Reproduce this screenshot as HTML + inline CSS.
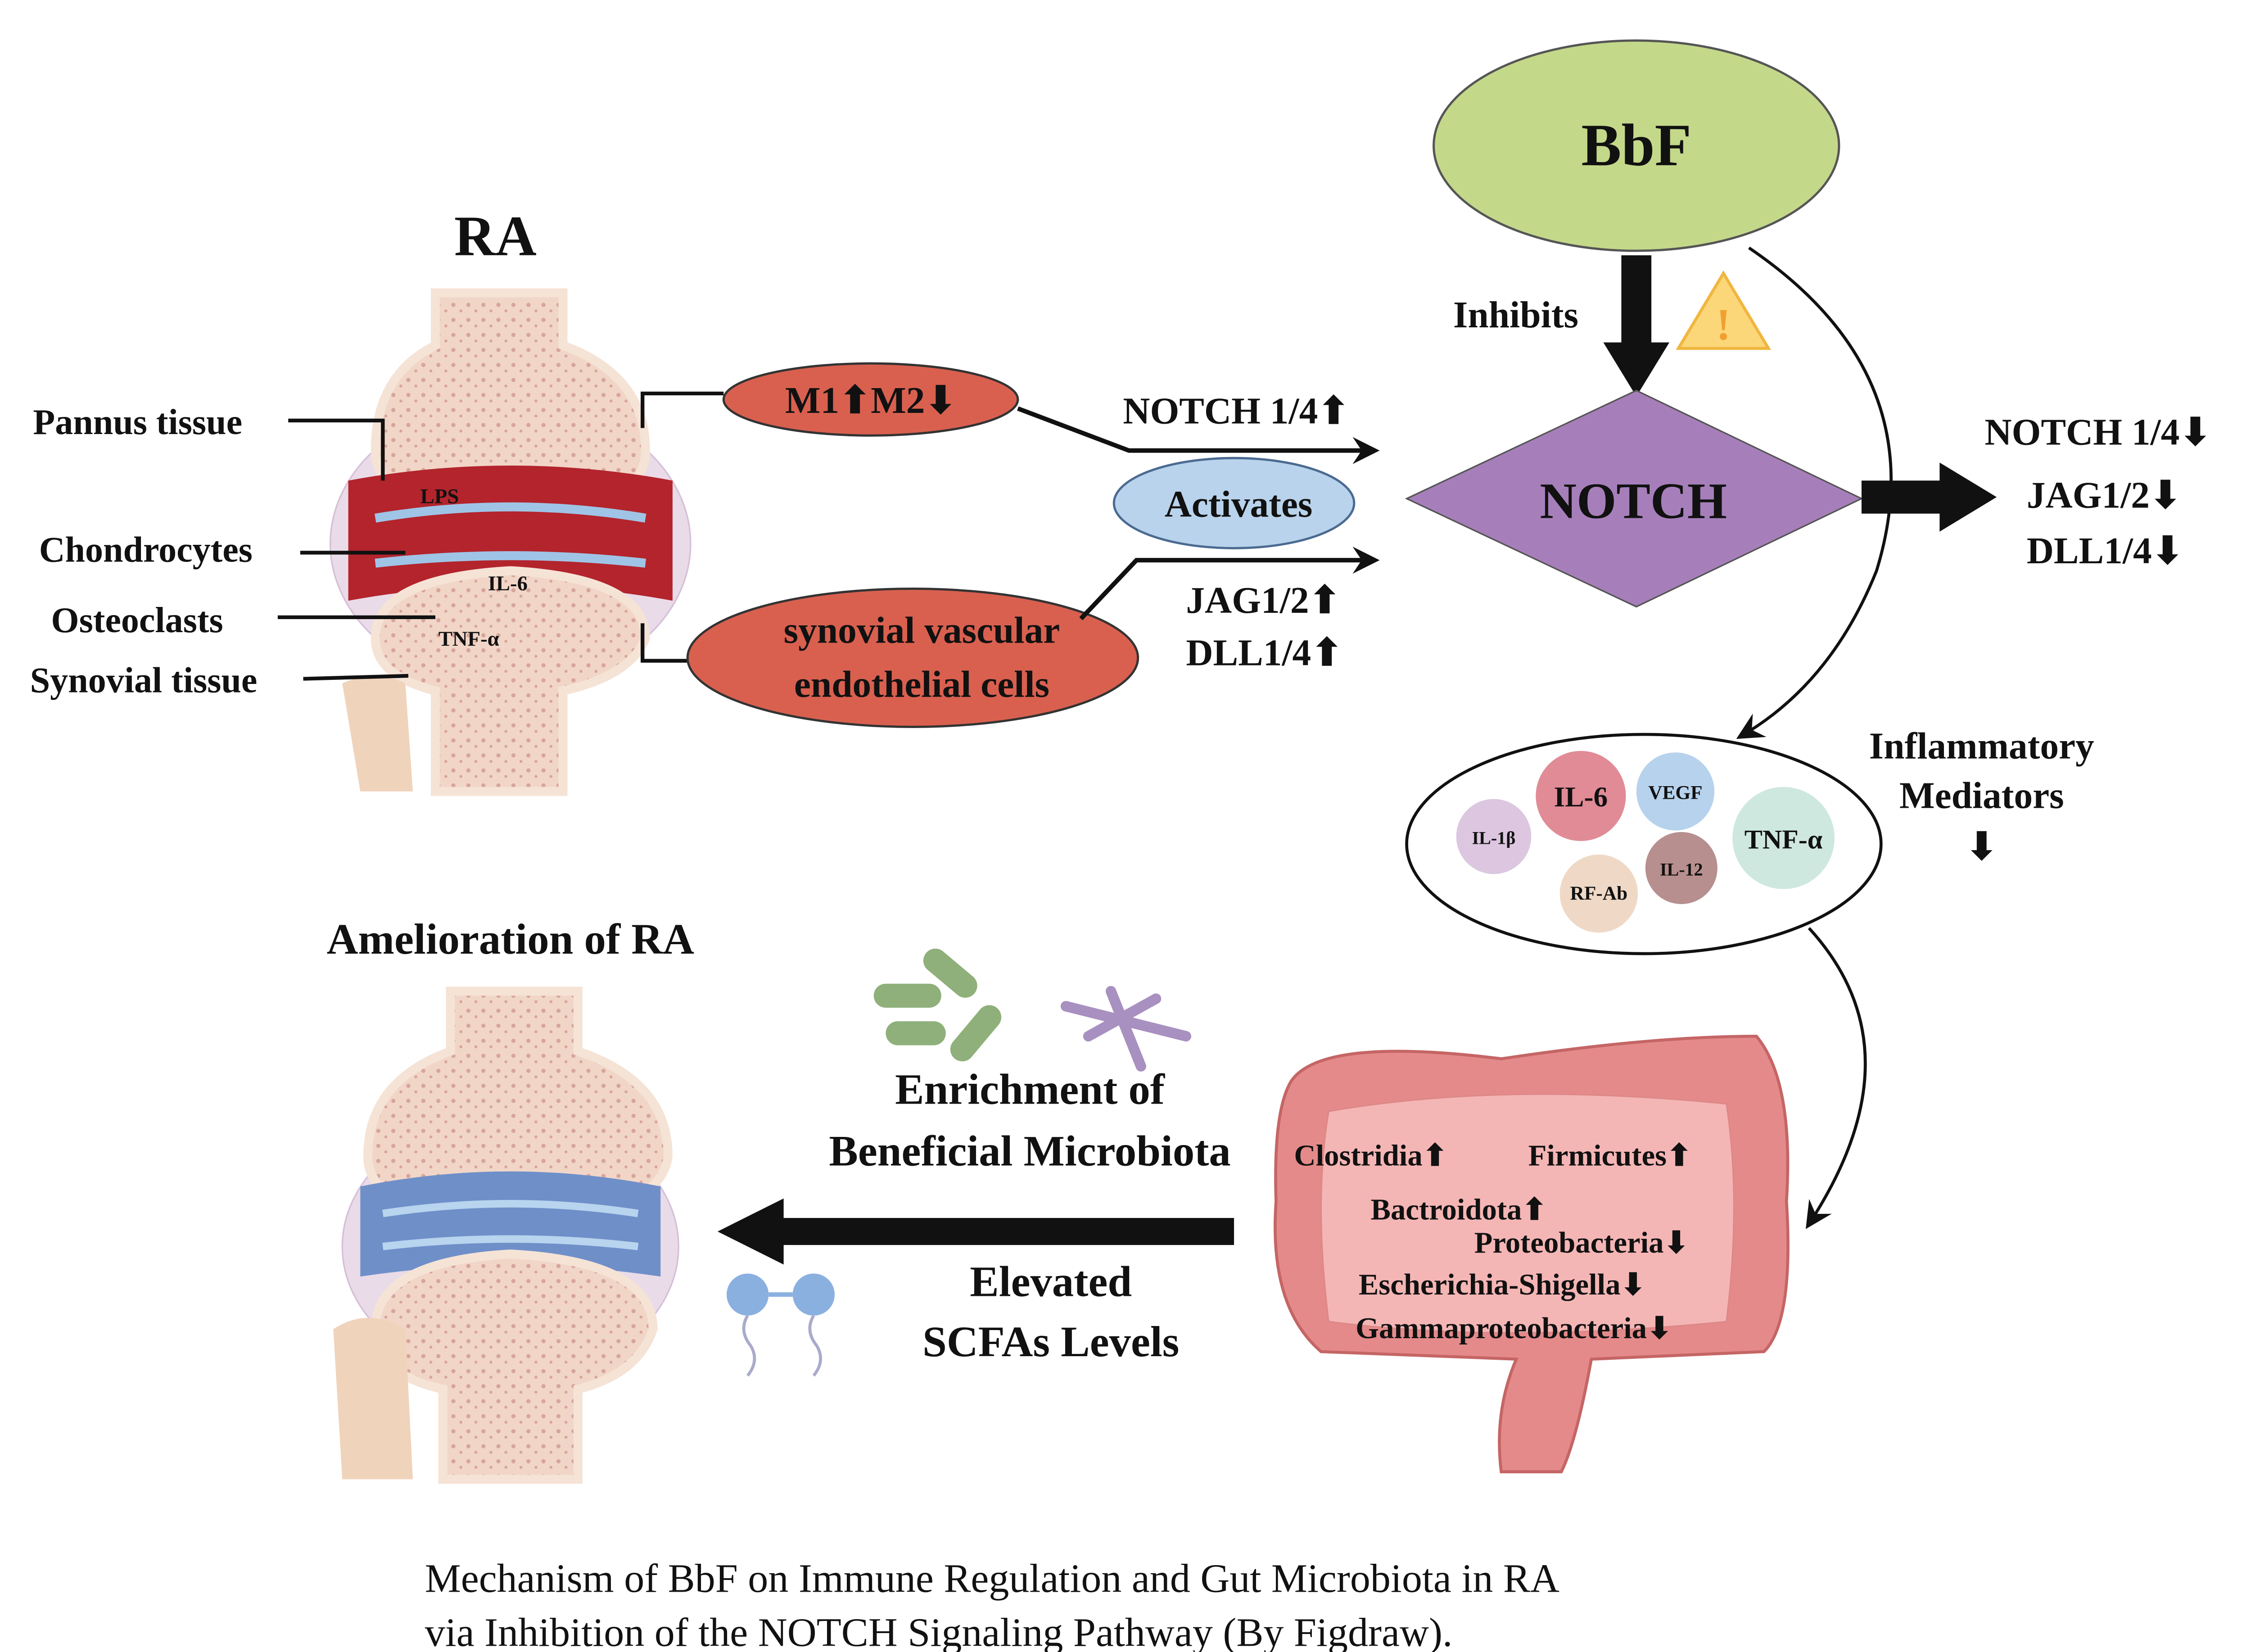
<!DOCTYPE html>
<html><head><meta charset="utf-8"><style>
html,body{margin:0;padding:0;background:#fff}
svg{display:block}
text{font-family:"Liberation Serif",serif;font-weight:bold;fill:#111}
</style></head><body>
<svg width="5202" height="3669" viewBox="0 0 1560 1100" preserveAspectRatio="none" xmlns="http://www.w3.org/2000/svg">
<defs>
<marker id="ah2" markerWidth="18" markerHeight="18" refX="14" refY="9" orient="auto" markerUnits="userSpaceOnUse"><path d="M0,0 L18,9 L0,18 L6,9 z" fill="#111"/></marker>
<pattern id="bone" width="10" height="10" patternUnits="userSpaceOnUse"><rect width="10" height="10" fill="#f1d6c8"/><circle cx="2" cy="3" r="1.4" fill="#d8a59a"/><circle cx="7" cy="7" r="1" fill="#d8a59a"/></pattern>
</defs>

<!-- RA joint -->
<text x="330" y="170" font-size="38" text-anchor="middle">RA</text>
<ellipse cx="340" cy="362" rx="120" ry="95" fill="#eadbe8" stroke="#d6bfd8"/>
<path d="M290,195 L375,195 L375,230 Q430,250 430,300 Q430,340 340,350 Q250,340 250,300 Q250,250 290,230 Z" fill="url(#bone)" stroke="#f5e3d6" stroke-width="6"/>
<path d="M232,320 Q340,300 448,320 L448,400 Q340,380 232,400 Z" fill="#b3242c"/>
<path d="M250,345 Q340,330 430,345" stroke="#9fc4e6" stroke-width="6" fill="none"/>
<path d="M250,375 Q340,365 430,375" stroke="#9fc4e6" stroke-width="6" fill="none"/>
<path d="M250,425 Q250,385 340,380 Q430,385 430,425 Q420,450 375,460 L375,527 L290,527 L290,460 Q250,450 250,425 Z" fill="url(#bone)" stroke="#f5e3d6" stroke-width="6"/>
<path d="M228,455 Q250,445 270,455 L275,527 L240,527 Z" fill="#efd3bb"/>
<text x="280" y="335" font-size="14">LPS</text>
<text x="325" y="393" font-size="14">IL-6</text>
<text x="292" y="430" font-size="14">TNF-α</text>
<text x="22" y="289" font-size="24">Pannus tissue</text>
<text x="26" y="374" font-size="24">Chondrocytes</text>
<text x="34" y="421" font-size="24">Osteoclasts</text>
<text x="20" y="461" font-size="24">Synovial tissue</text>
<polyline points="192,280 255,280 255,320" stroke="#111" stroke-width="2.5" fill="none"/>
<line x1="200" y1="368" x2="270" y2="368" stroke="#111" stroke-width="2.5"/>
<line x1="185" y1="411" x2="290" y2="411" stroke="#111" stroke-width="2.5"/>
<line x1="202" y1="452" x2="272" y2="450" stroke="#111" stroke-width="2.5"/>

<polyline points="428,285 428,262 482,262" stroke="#111" stroke-width="2.5" fill="none"/>
<polyline points="428,415 428,440 460,440" stroke="#111" stroke-width="2.5" fill="none"/>

<ellipse cx="580" cy="266" rx="98" ry="24" fill="#d9604f" stroke="#333" stroke-width="1.5"/>
<text x="580" y="275" font-size="25" text-anchor="middle">M1⬆M2⬇</text>
<ellipse cx="608" cy="438" rx="150" ry="46" fill="#d9604f" stroke="#333" stroke-width="1.5"/>
<text x="614" y="428" font-size="25" text-anchor="middle">synovial vascular</text>
<text x="614" y="464" font-size="25" text-anchor="middle">endothelial cells</text>
<ellipse cx="822" cy="335" rx="80" ry="30" fill="#b9d3ec" stroke="#4a6a90" stroke-width="1.5"/>
<text x="825" y="344" font-size="25" text-anchor="middle">Activates</text>
<polyline points="678,272 752,300 915,300" stroke="#111" stroke-width="3" fill="none" marker-end="url(#ah2)"/>
<polyline points="720,412 757,373 915,373" stroke="#111" stroke-width="3" fill="none" marker-end="url(#ah2)"/>
<text x="748" y="282" font-size="25">NOTCH 1/4⬆</text>
<text x="790" y="408" font-size="25">JAG1/2⬆</text>
<text x="790" y="443" font-size="25">DLL1/4⬆</text>

<!-- BbF / NOTCH -->
<ellipse cx="1090" cy="97" rx="135" ry="70" fill="#c4d88a" stroke="#555" stroke-width="1.5"/>
<text x="1090" y="110" font-size="40" text-anchor="middle">BbF</text>
<rect x="1080" y="170" width="20" height="60" fill="#111"/>
<path d="M1068,228 L1112,228 L1090,264 Z" fill="#111"/>
<text x="968" y="218" font-size="25">Inhibits</text>
<path d="M1148,182 L1178,232 L1118,232 Z" fill="#fcd77a" stroke="#f0b640" stroke-width="2"/>
<text x="1148" y="226" font-size="30" text-anchor="middle" style="fill:#f0a030">!</text>
<path d="M937,332 L1090,260 L1240,332 L1090,404 Z" fill="#a67fba" stroke="#555" stroke-width="1"/>
<text x="1088" y="345" font-size="34" text-anchor="middle">NOTCH</text>
<rect x="1240" y="320" width="55" height="22" fill="#111"/>
<path d="M1292,308 L1330,331 L1292,354 Z" fill="#111"/>
<text x="1322" y="296" font-size="25">NOTCH 1/4⬇</text>
<text x="1350" y="338" font-size="25">JAG1/2⬇</text>
<text x="1350" y="375" font-size="25">DLL1/4⬇</text>
<path d="M1165,165 Q1290,250 1250,380 Q1220,455 1160,490" stroke="#111" stroke-width="2" fill="none" marker-end="url(#ah2)"/>

<!-- mediators -->
<ellipse cx="1095" cy="562" rx="158" ry="73" fill="#fff" stroke="#111" stroke-width="2"/>
<circle cx="995" cy="557" r="25" fill="#dcc6e0"/><text x="995" y="562" font-size="12" text-anchor="middle">IL-1β</text>
<circle cx="1053" cy="530" r="30" fill="#e08b96"/><text x="1053" y="537" font-size="19" text-anchor="middle">IL-6</text>
<circle cx="1116" cy="527" r="26" fill="#b7d2ec"/><text x="1116" y="532" font-size="13" text-anchor="middle">VEGF</text>
<circle cx="1188" cy="558" r="34" fill="#cfe8df"/><text x="1188" y="565" font-size="18" text-anchor="middle">TNF-α</text>
<circle cx="1120" cy="578" r="24" fill="#b78f8e"/><text x="1120" y="583" font-size="12" text-anchor="middle">IL-12</text>
<circle cx="1065" cy="595" r="26" fill="#efd9c6"/><text x="1065" y="599" font-size="13" text-anchor="middle">RF-Ab</text>
<text x="1320" y="505" font-size="25" text-anchor="middle">Inflammatory</text>
<text x="1320" y="538" font-size="25" text-anchor="middle">Mediators</text>
<text x="1320" y="572" font-size="25" text-anchor="middle">⬇</text>
<path d="M1205,618 Q1280,700 1205,815" stroke="#111" stroke-width="2" fill="none" marker-end="url(#ah2)"/>

<!-- gut -->
<path d="M860,720 Q880,690 1000,705 Q1100,690 1170,690 Q1195,720 1190,800 Q1195,880 1175,900 L1060,905 Q1050,960 1040,980 L1000,980 Q995,940 1010,905 L880,900 Q845,870 850,800 Q848,740 860,720 Z" fill="#e58a8a" stroke="#c56565" stroke-width="2"/>
<path d="M885,740 Q1000,720 1150,735 Q1160,800 1150,880 Q1000,895 885,880 Q875,800 885,740 Z" fill="#f4b6b5" stroke="#d88"/>
<text x="862" y="776" font-size="20">Clostridia⬆</text>
<text x="1018" y="776" font-size="20">Firmicutes⬆</text>
<text x="913" y="812" font-size="20">Bactroidota⬆</text>
<text x="982" y="834" font-size="20">Proteobacteria⬇</text>
<text x="905" y="862" font-size="20">Escherichia-Shigella⬇</text>
<text x="903" y="891" font-size="20">Gammaproteobacteria⬇</text>

<rect x="515" y="811" width="307" height="18" fill="#111"/>
<path d="M478,820 L522,798 L522,842 Z" fill="#111"/>
<g fill="#8fb07a"><rect x="582" y="655" width="45" height="16" rx="8"/><rect x="612" y="640" width="42" height="16" rx="8" transform="rotate(40 633 648)"/><rect x="628" y="680" width="44" height="16" rx="8" transform="rotate(-50 650 688)"/><rect x="590" y="680" width="40" height="16" rx="8"/></g>
<g stroke="#a890c0" stroke-width="7" stroke-linecap="round"><line x1="710" y1="670" x2="790" y2="690"/><line x1="740" y1="660" x2="760" y2="710"/><line x1="725" y1="690" x2="770" y2="665"/></g>
<text x="686" y="735" font-size="29" text-anchor="middle">Enrichment of</text>
<text x="686" y="776" font-size="29" text-anchor="middle">Beneficial Microbiota</text>
<text x="700" y="863" font-size="29" text-anchor="middle">Elevated</text>
<text x="700" y="903" font-size="29" text-anchor="middle">SCFAs Levels</text>
<circle cx="498" cy="862" r="14" fill="#8ab0e0"/><circle cx="542" cy="862" r="14" fill="#8ab0e0"/>
<line x1="512" y1="862" x2="528" y2="862" stroke="#8ab0e0" stroke-width="3"/>
<path d="M498,876 q-6,10 2,20 q6,10 -2,20" stroke="#aac" stroke-width="2" fill="none"/>
<path d="M542,876 q-6,10 2,20 q6,10 -2,20" stroke="#aac" stroke-width="2" fill="none"/>

<!-- Amelioration joint -->
<text x="340" y="635" font-size="29" text-anchor="middle">Amelioration of RA</text>
<ellipse cx="340" cy="830" rx="112" ry="88" fill="#eadbe8" stroke="#d6bfd8"/>
<path d="M300,660 L385,660 L385,700 Q445,720 445,770 Q440,810 340,815 Q245,810 245,770 Q245,720 300,700 Z" fill="url(#bone)" stroke="#f5e3d6" stroke-width="6"/>
<path d="M240,790 Q340,770 440,790 L440,850 Q340,835 240,850 Z" fill="#6f8fc9"/>
<path d="M255,808 Q340,795 425,808" stroke="#b8d4ee" stroke-width="5" fill="none"/>
<path d="M255,830 Q340,820 425,830" stroke="#b8d4ee" stroke-width="5" fill="none"/>
<path d="M250,885 Q250,840 340,835 Q435,840 435,885 Q425,915 385,925 L385,985 L295,985 L295,925 Q250,915 250,885 Z" fill="url(#bone)" stroke="#f5e3d6" stroke-width="6"/>
<path d="M222,885 Q245,870 270,885 L275,985 L228,985 Z" fill="#efd3bb"/>

<text x="283" y="1060" font-size="27" style="font-weight:normal">Mechanism of BbF on Immune Regulation and Gut Microbiota in RA</text>
<text x="283" y="1096" font-size="27" style="font-weight:normal">via Inhibition of the NOTCH Signaling Pathway (By Figdraw).</text>
</svg>
</body></html>
